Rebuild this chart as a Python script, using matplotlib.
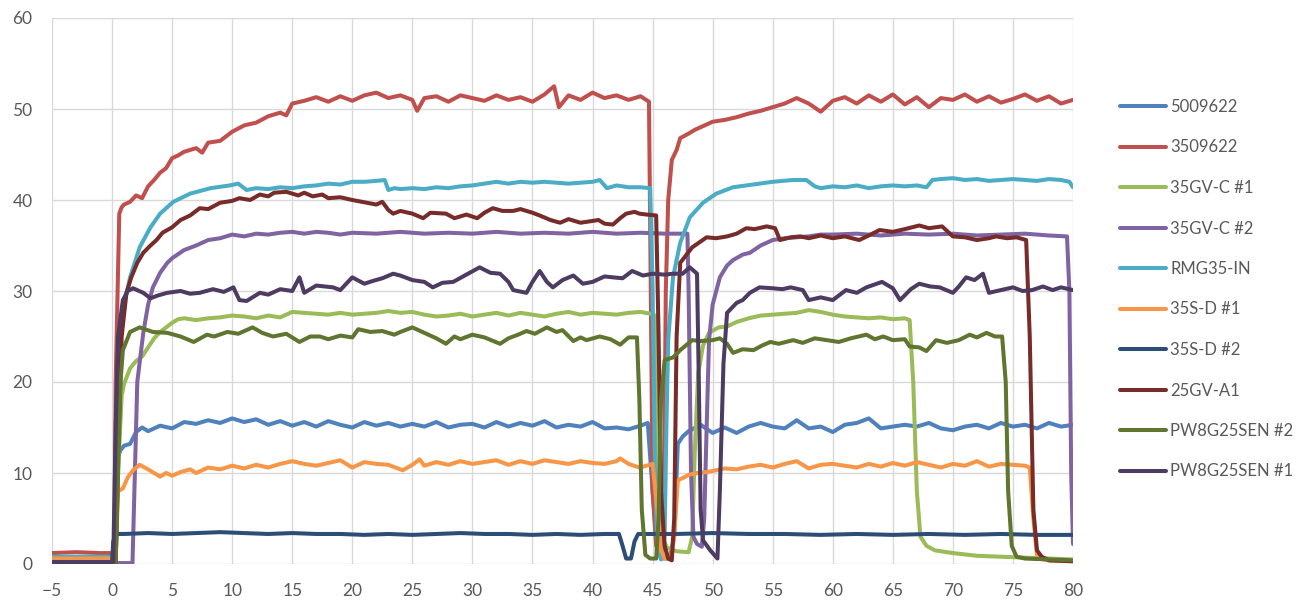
import matplotlib
matplotlib.use("Agg")
import matplotlib.pyplot as plt

# ---------------- data ----------------
names = ["5009622", "3509622", "35GV-C #1", "35GV-C #2", "RMG35-IN",
         "35S-D #1", "35S-D #2", "25GV-A1", "PW8G25SEN #2", "PW8G25SEN #1"]
colors = ["#4F81BD", "#C0504D", "#9BBB59", "#8064A2", "#4BACC6",
          "#F79646", "#2C4D75", "#772C2A", "#5F7530", "#4D3B62"]

x_5009622 = [-5, -3, -1, 0.2, 0.4, 0.7, 1, 1.5, 2, 2.5, 3, 4, 5, 6, 7, 8, 9, 10, 11, 12, 13, 14, 15, 16, 17, 18, 19, 20,
             21, 22, 23, 24, 25, 26, 27, 28, 29, 30, 31, 32, 33, 34, 35, 36, 37, 38, 39, 40, 41, 42, 43, 44, 44.6,
             45.0, 45.4, 45.8, 46.4, 46.8, 47.1, 47.5, 48, 49, 50, 51, 52, 53, 54, 55, 56, 57, 58, 59, 60, 61, 62, 63,
             64, 65, 66, 67, 68, 69, 70, 71, 72, 73, 74, 75, 76, 77, 78, 79, 80]
y_5009622 = [0.6, 0.6, 0.6, 0.6, 11.5, 12.5, 13.0, 13.2, 14.5, 15.0, 14.6, 15.2, 14.9, 15.6, 15.4, 15.8, 15.5, 16.0,
             15.6, 15.9, 15.3, 15.7, 15.2, 15.6, 15.1, 15.7, 15.3, 15.0, 15.6, 15.2, 15.5, 15.1, 15.4, 15.1, 15.6,
             15.0, 15.3, 15.4, 15.0, 15.6, 15.1, 15.5, 15.2, 15.7, 15.0, 15.3, 15.1, 15.6, 14.9, 15.0, 14.8, 15.2,
             15.5, 8.0, 1.5, 0.6, 0.6, 3.0, 13.2, 14.0, 14.6, 15.3, 14.4, 15.0, 14.4, 15.1, 15.5, 15.1, 14.9, 15.8,
             14.9, 15.1, 14.5, 15.3, 15.5, 16.0, 14.9, 15.1, 15.3, 15.1, 15.5, 14.9, 14.7, 15.1, 15.3, 14.9, 15.5,
             15.1, 15.3, 14.9, 15.5, 15.1, 15.3]

x_3509622 = [-5, -3, -1, 0.2, 0.3, 0.6, 0.8, 1, 1.5, 2, 2.5, 3, 3.5, 4, 4.5, 5, 5.5, 6, 7, 7.5, 8, 9, 10, 11, 12, 13,
             14, 14.5, 15, 16, 17, 18, 19, 20, 21, 22, 23, 24, 25, 25.4, 26, 27, 28, 29, 30, 31, 32, 33, 34, 35, 36,
             36.8, 37.2, 38, 39, 40, 41, 42, 43, 44, 44.7, 44.85, 45.0, 45.3, 45.6, 45.9, 46.0, 46.1, 46.3, 46.6, 47.0,
             47.3, 48, 48.5, 49, 50, 51, 52, 53, 54, 55, 56, 57, 58, 59, 60, 61, 62, 63, 64, 65, 66, 67, 68, 69, 70,
             71, 72, 73, 74, 75, 76, 77, 78, 79, 80]
y_3509622 = [1.2, 1.3, 1.2, 1.2, 20.0, 38.5, 39.2, 39.5, 39.8, 40.5, 40.2, 41.5, 42.2, 43.0, 43.5, 44.6, 44.9, 45.3,
             45.7, 45.2, 46.3, 46.5, 47.5, 48.2, 48.5, 49.2, 49.6, 49.3, 50.6, 50.9, 51.3, 50.8, 51.4, 50.9, 51.5,
             51.8, 51.2, 51.5, 51.0, 49.8, 51.2, 51.4, 50.8, 51.5, 51.2, 50.9, 51.5, 51.0, 51.3, 50.8, 51.6, 52.5,
             50.2, 51.5, 51.0, 51.8, 51.2, 51.5, 51.0, 51.4, 50.8, 30.0, 8.0, 2.0, 1.0, 3.0, 15.0, 30.0, 40.0, 44.4,
             45.5, 46.8, 47.3, 47.7, 48.0, 48.6, 48.8, 49.1, 49.5, 49.8, 50.2, 50.6, 51.2, 50.6, 49.7, 50.9, 51.3,
             50.6, 51.5, 50.8, 51.6, 50.5, 51.3, 50.2, 51.2, 51.0, 51.6, 50.8, 51.4, 50.7, 51.1, 51.6, 50.9, 51.4,
             50.6, 51.0]

x_35gvc1 = [-5, 0.3, 0.5, 0.8, 1.0, 1.5, 2.0, 2.5, 3.0, 3.5, 4, 4.5, 5, 5.5, 6, 7, 8, 9, 10, 11, 12, 13, 14, 15, 16,
            17, 18, 19, 20, 21, 22, 23, 24, 25, 26, 27, 28, 29, 30, 31, 32, 33, 34, 35, 36, 37, 38, 39, 40, 41, 42,
            43, 44, 44.8, 45.2, 45.5, 45.8, 46.2, 47, 48, 48.3, 48.5, 48.8, 49.2, 49.7, 50.5, 51.2, 52, 53, 54, 55,
            56, 57, 58, 59, 60, 61, 62, 63, 64, 65, 66, 66.4, 66.7, 67.0, 67.3, 67.8, 68.5, 70, 72, 74, 76, 78, 80]
y_35gvc1 = [0.3, 0.3, 10.0, 18.5, 19.8, 21.5, 22.3, 22.8, 23.8, 24.8, 25.5, 26.0, 26.5, 26.9, 27.0, 26.8, 27.0, 27.1,
            27.3, 27.2, 27.0, 27.3, 27.1, 27.7, 27.6, 27.5, 27.4, 27.6, 27.4, 27.5, 27.6, 27.8, 27.6, 27.7, 27.4,
            27.2, 27.3, 27.5, 27.2, 27.4, 27.6, 27.3, 27.6, 27.4, 27.2, 27.5, 27.7, 27.4, 27.6, 27.5, 27.4, 27.6,
            27.7, 27.5, 27.3, 10.0, 3.0, 1.8, 1.4, 1.3, 3.0, 12.0, 21.0, 24.0, 25.4, 26.0, 26.1, 26.6, 27.0, 27.3,
            27.4, 27.5, 27.6, 27.9, 27.7, 27.4, 27.2, 27.1, 27.0, 27.1, 26.9, 27.0, 26.8, 20.0, 8.0, 3.0, 2.0, 1.5,
            1.2, 0.9, 0.8, 0.7, 0.6, 0.5]

x_35gvc2 = [-5, 1.7, 1.9, 2.1, 2.6, 3, 3.4, 4, 4.6, 5, 6, 7, 8, 9, 10, 11, 12, 13, 14, 15, 16, 17, 18, 19, 20, 22,
            24, 26, 28, 30, 32, 34, 36, 38, 40, 42, 44, 46, 47.9, 48.0, 48.2, 48.4, 48.7, 49.1, 49.3, 49.5, 49.7,
            50.0, 50.6, 51.2, 51.7, 52.5, 53.1, 54, 55, 56, 57, 58, 59, 60, 62, 64, 66, 68, 70, 72, 74, 76, 78, 79.5,
            79.7, 79.85, 80]
y_35gvc2 = [0.1, 0.1, 10.0, 20.0, 25.4, 28.5, 30.4, 32.0, 33.1, 33.6, 34.5, 35.0, 35.6, 35.8, 36.2, 36.0, 36.3, 36.2,
            36.4, 36.5, 36.3, 36.5, 36.4, 36.2, 36.4, 36.3, 36.5, 36.3, 36.4, 36.3, 36.5, 36.3, 36.4, 36.3, 36.5,
            36.3, 36.4, 36.3, 36.3, 30.0, 10.0, 3.0, 2.2, 1.9, 5.0, 15.0, 24.6, 28.5, 31.5, 32.8, 33.4, 34.0, 34.2,
            35.0, 35.6, 35.8, 35.9, 36.0, 36.2, 36.2, 36.3, 36.1, 36.3, 36.2, 36.3, 36.1, 36.2, 36.3, 36.1, 36.0,
            30.0, 10.0, 2.2]

x_rmg35 = [-5, 0.3, 0.5, 0.7, 1.0, 1.5, 2.3, 3.2, 4, 5.1, 6.5, 8.2, 9.8, 10.5, 11.2, 12, 13, 14, 15, 16, 17, 18, 19,
           20, 21, 22, 22.7, 23.0, 23.5, 24, 25, 26, 27, 28, 29, 30, 31, 32, 33, 34, 35, 36, 37, 38, 39, 40, 40.6,
           41.2, 42, 43, 44, 44.8, 45.0, 45.2, 45.4, 45.7, 46.0, 46.15, 46.3, 46.7, 47.3, 48.1, 49.2, 50.3, 51.7,
           53.9, 55, 56.7, 57.8, 58.5, 59, 60, 61, 62, 63, 64, 65, 66, 67, 67.8, 68.3, 69, 70, 71, 72, 73, 74, 75,
           76, 77, 78, 79, 79.7, 80]
y_rmg35 = [0.8, 0.8, 15.0, 25.0, 28.5, 31.5, 34.8, 37.0, 38.5, 39.8, 40.7, 41.3, 41.6, 41.8, 41.1, 41.3, 41.2, 41.4,
           41.3, 41.5, 41.6, 41.8, 41.7, 42.0, 42.0, 42.1, 42.2, 41.1, 41.3, 41.2, 41.3, 41.2, 41.4, 41.3, 41.5,
           41.6, 41.8, 42.0, 41.8, 42.0, 41.9, 42.0, 41.9, 41.8, 41.9, 42.0, 42.2, 41.3, 41.6, 41.4, 41.4, 41.3,
           30.0, 10.0, 2.0, 0.5, 3.0, 15.0, 24.6, 31.5, 35.3, 38.1, 39.7, 40.7, 41.4, 41.8, 42.0, 42.2, 42.2, 41.5,
           41.3, 41.5, 41.4, 41.6, 41.3, 41.5, 41.6, 41.5, 41.6, 41.4, 42.2, 42.3, 42.4, 42.2, 42.3, 42.1, 42.2,
           42.3, 42.2, 42.1, 42.3, 42.2, 42.0, 41.4]

x_35sd1 = [-5, 0.3, 0.5, 0.9, 1.3, 1.75, 2.3, 3, 4, 4.5, 5, 5.7, 6.5, 7, 8, 9, 10, 11, 12, 13, 14, 15, 16, 17, 18,
           19, 20, 21, 22, 23, 24.2, 25, 25.6, 26, 27, 28, 29, 30, 31, 32, 33, 34, 35, 36, 37, 38, 39, 40, 41, 42,
           42.3, 43, 43.9, 44.5, 45.0, 45.4, 45.7, 46.0, 46.5, 46.8, 47.1, 47.6, 48, 48.7, 49.5, 50.3, 51, 52, 53,
           54, 55, 56, 57, 58, 59, 60, 61, 62, 63, 64, 65, 66, 67, 68, 69, 70, 71, 72, 73, 74, 75, 76, 76.4, 76.7,
           77.0, 77.5, 78, 80]
y_35sd1 = [0.6, 0.6, 8.0, 8.3, 9.5, 10.3, 10.9, 10.4, 9.6, 10.0, 9.7, 10.1, 10.4, 10.0, 10.6, 10.4, 10.8, 10.5, 10.9,
           10.6, 11.0, 11.3, 11.0, 10.8, 11.1, 11.4, 10.6, 11.2, 11.0, 10.9, 10.3, 10.9, 11.5, 10.8, 11.2, 10.9,
           11.3, 11.0, 11.2, 11.4, 10.9, 11.3, 11.0, 11.4, 11.2, 11.0, 11.3, 11.1, 11.0, 11.3, 11.6, 11.0, 10.6,
           10.8, 11.0, 6.0, 1.5, 0.6, 0.6, 3.0, 9.2, 9.5, 9.8, 10.0, 10.1, 10.3, 10.5, 10.4, 10.7, 10.9, 10.6,
           11.0, 11.3, 10.5, 10.9, 11.0, 10.8, 10.6, 11.0, 10.7, 11.1, 10.8, 11.2, 10.9, 10.6, 11.0, 10.8, 11.3,
           10.7, 11.0, 10.9, 10.8, 10.6, 5.0, 1.0, 0.5, 0.4, 0.3]

x_35sd2 = [-5, 0.0, 0.1, 0.4, 1, 3, 5, 7, 9, 11, 13, 15, 17, 19, 21, 23, 25, 27, 29, 31, 33, 35, 37, 39, 41, 42.2,
           42.5, 42.8, 43.2, 43.5, 43.8, 45, 47, 50, 53, 56, 59, 62, 65, 68, 71, 74, 77, 80]
y_35sd2 = [0.2, 0.2, 2.5, 3.3, 3.3, 3.4, 3.3, 3.4, 3.5, 3.4, 3.3, 3.4, 3.3, 3.3, 3.2, 3.3, 3.2, 3.3, 3.4, 3.3, 3.3,
           3.2, 3.3, 3.2, 3.3, 3.3, 2.0, 0.6, 0.6, 2.5, 3.3, 3.3, 3.3, 3.4, 3.3, 3.3, 3.2, 3.3, 3.2, 3.3, 3.2, 3.3,
           3.2, 3.2]

x_25gva1 = [-5, 0.3, 0.5, 0.8, 1.2, 1.6, 2.1, 2.6, 3.2, 3.7, 4.2, 5, 5.7, 6.5, 7.3, 8, 9, 10, 10.6, 11.5, 12.3, 13,
            13.5, 14.5, 15.5, 16, 16.7, 17.5, 18, 19, 20, 21.2, 22, 22.5, 23, 23.4, 24, 25, 25.9, 26.5, 27.8, 28.5,
            29.5, 30.4, 31, 31.7, 32.5, 33.4, 34, 35, 35.6, 36.5, 37.3, 38, 39, 39.5, 40.5, 41, 41.7, 42.3, 42.8,
            43.5, 43.9, 44.5, 45.3, 45.5, 45.7, 46.0, 46.3, 46.6, 46.8, 47.0, 47.3, 48.3, 49.5, 50.3, 51.2, 52,
            52.8, 53.5, 54.5, 55.2, 55.6, 56.5, 57.3, 58, 59, 60, 61, 62.2, 63, 63.9, 65, 66, 67.2, 68, 69.1, 70,
            71, 72, 73, 73.6, 74.5, 75.3, 76.1, 76.4, 76.7, 77.0, 77.4, 78, 80]
y_25gva1 = [0.1, 0.1, 12.0, 25.0, 29.8, 31.5, 33.1, 34.2, 35.0, 35.6, 36.4, 37.0, 37.8, 38.3, 39.1, 39.0, 39.7, 39.9,
            40.2, 40.0, 40.6, 40.4, 40.8, 40.9, 40.5, 40.8, 40.4, 40.6, 40.2, 40.3, 40.0, 39.7, 39.5, 39.8, 38.9,
            38.5, 38.8, 38.5, 38.0, 38.6, 38.5, 38.0, 38.4, 38.0, 38.6, 39.1, 38.8, 38.8, 39.0, 38.6, 38.3, 37.8,
            37.5, 37.9, 37.5, 37.6, 37.8, 37.4, 37.3, 38.0, 38.5, 38.7, 38.5, 38.4, 38.3, 25.0, 8.0, 2.0, 0.6, 0.4,
            5.0, 25.0, 33.1, 34.8, 35.9, 35.8, 36.0, 36.3, 36.9, 36.8, 37.1, 36.9, 35.6, 35.9, 36.0, 35.8, 36.1,
            35.8, 36.0, 35.6, 36.1, 36.7, 36.5, 36.8, 37.2, 36.9, 37.1, 36.0, 35.9, 35.6, 35.8, 36.0, 35.8, 35.9,
            35.6, 25.0, 6.0, 1.5, 0.8, 0.4, 0.3]

x_pw8_2 = [-5, 0.3, 0.5, 0.7, 0.9, 1.5, 2.3, 3.4, 4.6, 5.7, 6.8, 7.9, 8.5, 9.6, 10.5, 11.7, 12.5, 13.4, 14.5, 15.6,
           16.5, 17.3, 18, 19, 20, 20.5, 21.5, 22.5, 23.5, 24, 25, 26, 27, 27.8, 28.5, 29, 30, 31, 32.3, 33, 33.8,
           34.5, 35.2, 36.2, 37, 37.5, 38.4, 39, 39.5, 40.6, 41.5, 42.3, 43, 43.7, 43.9, 44.1, 44.4, 44.8, 45.3,
           45.5, 45.7, 46.0, 46.7, 47.3, 48.3, 49, 50, 50.6, 51.2, 51.7, 52.5, 53.4, 54.1, 54.8, 55.5, 56.7, 57.5,
           58.5, 59.5, 60.5, 61.5, 62.8, 63.5, 64.2, 65, 66, 66.4, 67.2, 67.8, 68.6, 69.5, 70.5, 71.4, 72, 72.8,
           73.5, 74.1, 74.4, 74.6, 74.9, 75.3, 76, 78, 80]
y_pw8_2 = [0.1, 0.1, 10.0, 20.0, 23.5, 25.5, 26.0, 25.5, 25.4, 25.0, 24.4, 25.2, 25.0, 25.5, 25.3, 26.0, 25.4, 25.0,
           25.3, 24.4, 25.0, 25.0, 24.7, 25.1, 24.9, 25.8, 25.5, 25.6, 25.2, 25.5, 26.0, 25.4, 24.8, 24.2, 25.0,
           24.7, 25.2, 24.9, 24.2, 24.8, 25.2, 25.6, 25.3, 26.0, 25.5, 25.7, 24.5, 24.9, 24.6, 25.0, 24.7, 24.1,
           24.9, 24.9, 18.0, 6.0, 1.0, 0.6, 0.6, 5.0, 18.0, 22.4, 22.7, 23.5, 24.6, 24.5, 24.6, 24.8, 24.2, 23.2,
           23.6, 23.5, 24.0, 24.4, 24.2, 24.6, 24.3, 24.8, 24.6, 24.4, 24.8, 25.2, 24.7, 25.0, 24.6, 24.7, 23.9,
           23.8, 23.4, 24.6, 24.3, 24.6, 25.2, 24.9, 25.4, 25.0, 25.0, 20.0, 8.0, 2.0, 0.8, 0.6, 0.5, 0.4]

x_pw8_1 = [-5, 0.1, 0.3, 0.5, 0.9, 1.3, 1.75, 2.6, 3.2, 3.8, 4.6, 5.7, 6.5, 7.3, 8.4, 9.3, 10.1, 10.6, 11.2, 12.3,
           13, 14, 15, 15.6, 16, 17, 18.4, 19, 20, 21, 21.7, 22.5, 23.4, 24, 25, 26, 26.7, 27.5, 28.4, 29.5, 30.6,
           31.5, 32.3, 33, 33.4, 34.5, 35, 35.6, 36.2, 36.7, 37.5, 38.4, 39.2, 40, 41, 41.7, 42.5, 43.3, 44.2, 45,
           46, 46.7, 47.5, 48.1, 48.7, 48.85, 49.0, 49.2, 49.8, 50.4, 50.6, 50.9, 51.2, 52, 52.5, 53.1, 53.9, 55,
           55.8, 56.5, 57.5, 58, 59, 60, 61.1, 62, 62.8, 64.1, 65, 65.6, 66.5, 67.2, 68.1, 68.9, 70, 70.5, 71.1,
           71.8, 72.5, 73, 74, 75, 75.8, 76.6, 77.5, 78.3, 79, 80]
y_pw8_1 = [0.2, 0.2, 15.0, 25.0, 29.0, 30.0, 30.3, 29.8, 29.2, 29.5, 29.8, 30.0, 29.7, 29.8, 30.2, 29.9, 30.4, 29.0,
           28.9, 29.8, 29.6, 30.2, 30.0, 31.5, 29.8, 30.6, 30.4, 30.1, 31.5, 30.8, 31.1, 31.4, 31.9, 31.7, 31.2,
           31.0, 30.4, 30.9, 31.0, 31.8, 32.6, 32.0, 31.9, 31.0, 30.1, 29.8, 31.0, 32.2, 31.0, 30.4, 31.2, 31.7,
           30.8, 31.0, 31.6, 31.5, 31.4, 32.2, 31.7, 31.9, 31.8, 31.9, 31.9, 32.6, 31.9, 20.0, 6.0, 2.6, 1.5, 0.6,
           8.0, 22.0, 27.6, 28.7, 29.0, 29.8, 30.4, 30.3, 30.2, 30.4, 30.1, 29.0, 29.3, 29.0, 30.1, 29.8, 30.4,
           31.0, 30.3, 29.0, 30.2, 30.8, 30.5, 30.4, 29.8, 30.5, 31.5, 31.2, 31.9, 29.8, 30.1, 30.4, 30.0, 30.1,
           30.5, 30.1, 30.4, 30.1]

series_x = [x_5009622, x_3509622, x_35gvc1, x_35gvc2, x_rmg35, x_35sd1, x_35sd2, x_25gva1, x_pw8_2, x_pw8_1]
series_y = [y_5009622, y_3509622, y_35gvc1, y_35gvc2, y_rmg35, y_35sd1, y_35sd2, y_25gva1, y_pw8_2, y_pw8_1]

x_ticks = list(range(-5, 81, 5))
y_ticks = list(range(0, 61, 10))

# ---------------- plot ----------------
plt.rcParams['font.family'] = ['Lato', 'DejaVu Sans']
fig = plt.figure(figsize=(12.99, 6.01), dpi=100)
ax = fig.add_axes([52 / 1299, 1 - 564 / 601, (1073 - 52) / 1299, (564 - 18) / 601])

for xs, ys, name, c in zip(series_x, series_y, names, colors):
    ax.plot(xs, ys, color=c, lw=2.9, label=name, solid_joinstyle='round', solid_capstyle='round')

ax.set_xlim(-5, 80)
ax.set_ylim(0, 60)
ax.set_xticks(x_ticks)
ax.set_yticks(y_ticks)
ax.grid(True, color='#D9D9D9', lw=1.0)
ax.set_axisbelow(True)
for s in ax.spines.values():
    s.set_visible(False)
ax.tick_params(axis='both', length=0, labelsize=12.5, labelcolor='#595959')
ax.tick_params(axis='y', pad=14)
ax.tick_params(axis='x', pad=14)

fig.legend(loc='upper left', bbox_to_anchor=(1120 / 1299, 1 - 99 / 601), frameon=False,
           fontsize=12, handlelength=2.75, handletextpad=0.25, labelspacing=1.47,
           borderpad=0, borderaxespad=0, labelcolor='#595959')

fig.savefig('out.png', dpi=100)
